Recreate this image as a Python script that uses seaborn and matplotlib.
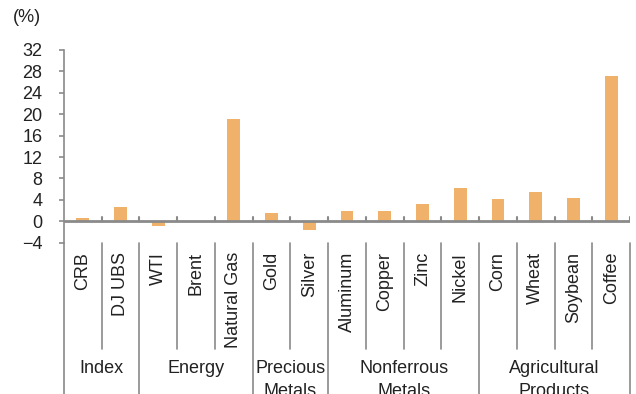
import matplotlib
matplotlib.use("Agg")
import matplotlib.pyplot as plt
from matplotlib.transforms import blended_transform_factory
import seaborn as sns
import pandas as pd

# Commodity price changes (%)
commodities = ["CRB", "DJ UBS", "WTI", "Brent", "Natural Gas", "Gold", "Silver",
               "Aluminum", "Copper", "Zinc", "Nickel", "Corn", "Wheat", "Soybean", "Coffee"]
changes = [0.6, 2.6, -0.8, 0.0, 19.1, 1.5, -1.7, 1.9, 1.9, 3.2, 6.3, 4.1, 5.4, 4.3, 27.2]
groups = ["Index", "Energy", "Precious\nMetals", "Nonferrous\nMetals", "Agricultural\nProducts"]
group_sizes = [2, 3, 2, 4, 4]
y_ticks = [-4, 0, 4, 8, 12, 16, 20, 24, 28, 32]

sns.set_theme(style="white")
plt.rcParams["font.family"] = ["Liberation Sans", "DejaVu Sans"]
FS = 13
GRAY = "#8a8a8a"
BAR = "#F0B26B"
TXT = "#222222"

W, H = 636, 394
fig = plt.figure(figsize=(W / 100, H / 100), dpi=100)
y_bottom_px, y_top_px = 242.7, 50
x_left_px, x_right_px = 64, 630
ax = fig.add_axes([x_left_px / W, 1 - y_bottom_px / H,
                   (x_right_px - x_left_px) / W, (y_bottom_px - y_top_px) / H])

df = pd.DataFrame({"commodity": commodities, "change": changes})
sns.barplot(data=df, x="commodity", y="change", color=BAR, width=0.34,
            saturation=1, linewidth=0, ax=ax)

n = len(commodities)
ax.set_xlim(-0.5, n - 0.5)
ax.set_ylim(-4, 32)
ax.set_yticks(y_ticks)
ax.set_yticklabels([str(v).replace("-", "\u2212") for v in y_ticks], fontsize=FS, color=TXT)
ax.tick_params(axis="y", left=True, length=3.5, width=1.2, color=GRAY, pad=12)
ax.tick_params(axis="x", bottom=False, labelbottom=False)
ax.set_xlabel("")
ax.set_ylabel("")
for s in ["top", "right", "bottom"]:
    ax.spines[s].set_visible(False)
ax.spines["left"].set_color(GRAY)
ax.spines["left"].set_linewidth(1.2)

# zero line with small upward ticks at category boundaries
ax.axhline(0, color=GRAY, lw=2, zorder=3)
for b in range(1, n + 1):
    ax.plot([b - 0.5, b - 0.5], [0, 0.75], color=GRAY, lw=1.5, zorder=3)

# category separators below the plot
tr = blended_transform_factory(ax.transData, fig.transFigure)
y_axis_bottom = 1 - y_bottom_px / H
y_sub_end = 1 - 349 / H
group_bounds = [-0.5]
acc = 0
for g in group_sizes:
    acc += g
    group_bounds.append(acc - 0.5)
for b in range(0, n + 1):
    xb = b - 0.5
    y_end = 0.0 if xb in group_bounds else y_sub_end
    fig.add_artist(plt.Line2D([xb, xb], [y_axis_bottom, y_end], transform=tr,
                              color=GRAY, lw=1.2))

# category labels
y_lab = 1 - 252 / H
for i, name in enumerate(commodities):
    ax.text(i, y_lab, name, transform=tr, rotation=90, ha="center", va="top",
            fontsize=FS, color=TXT)

# group labels
y_grp = 1 - 360 / H
for gname, lo, hi in zip(groups, group_bounds[:-1], group_bounds[1:]):
    ax.text((lo + hi) / 2, y_grp, gname, transform=tr, ha="center", va="top",
            fontsize=FS, color=TXT, linespacing=1.45, multialignment="center")

fig.text(13 / W, 1 - 18 / H, "(%)", ha="left", va="center", fontsize=FS, color=TXT)

fig.savefig("out.png", dpi=100)
